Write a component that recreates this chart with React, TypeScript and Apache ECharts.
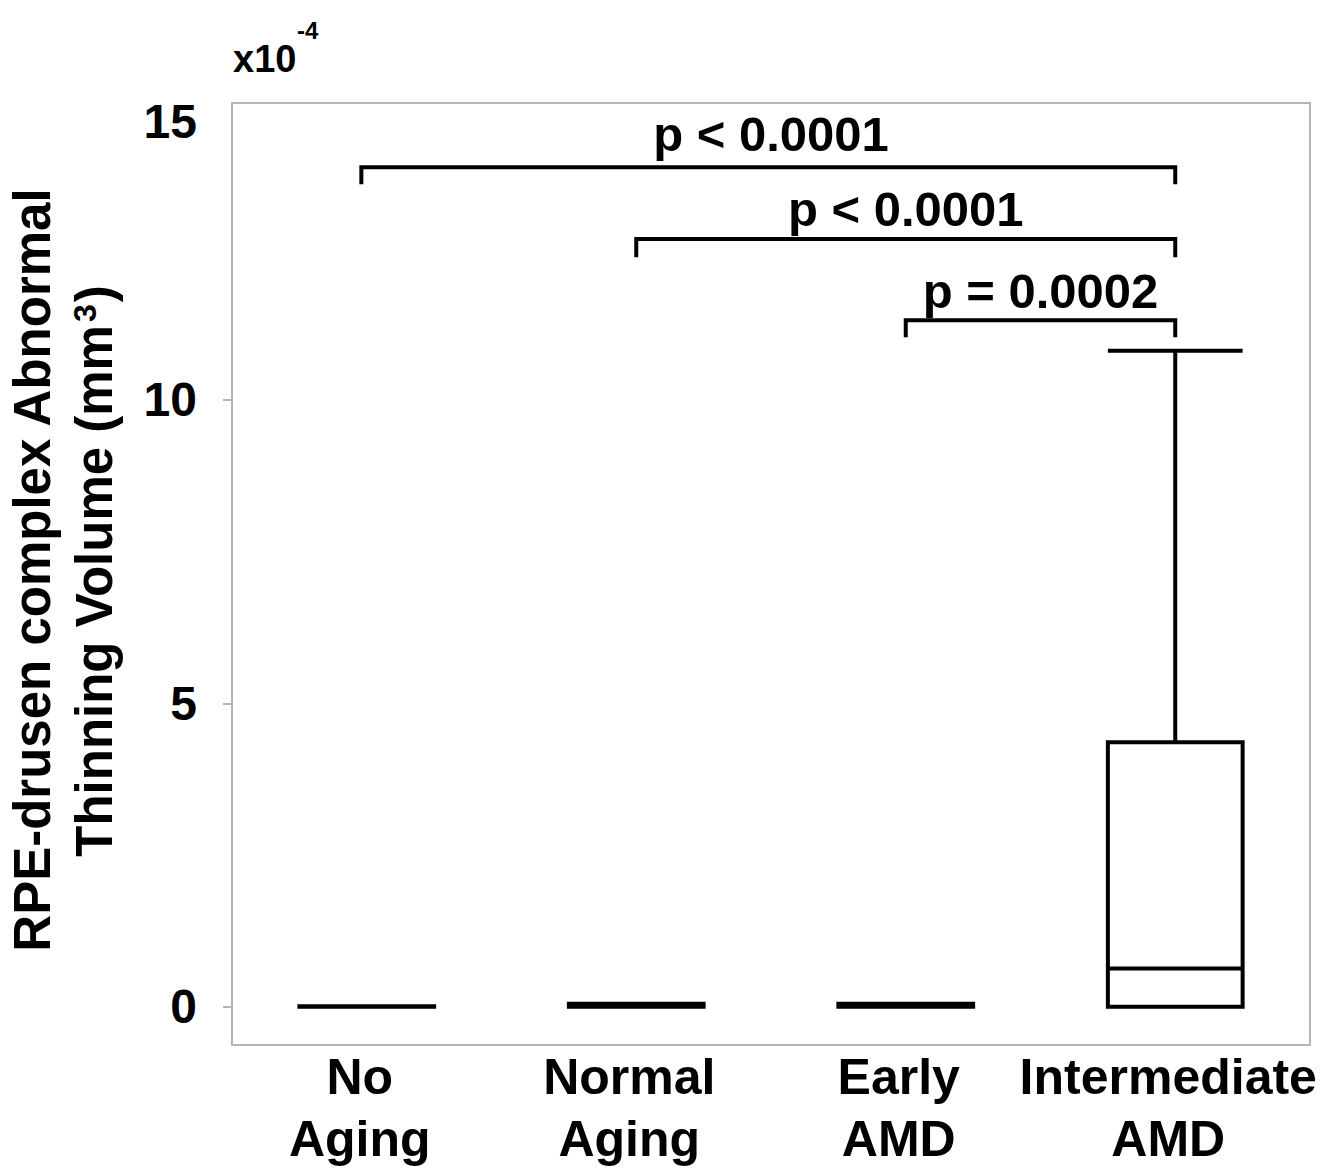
import React, { useEffect, useRef } from "react";
import * as echarts from "echarts";

const FONT = "'Liberation Sans', Arial, sans-serif";

const categories = ["No\nAging", "Normal\nAging", "Early\nAMD", "Intermediate\nAMD"];
// [min, Q1, median, Q3, max] (x10^-4 mm^3)
const noAging = [0, 0, 0, 0.01, 0.01];
const normalAging = [0, 0, 0, 0.05, 0.05];
const earlyAMD = [0, 0, 0, 0.05, 0.05];
const intermediateAMD = [0, 0, 0.63, 4.36, 10.81];
const yTickValues = [0, 5, 10];

// significance brackets (positions in category units: centre of category i = i + 0.5)
const bracketLabels = ["p < 0.0001", "p < 0.0001", "p = 0.0002"];
const bracketFrom = [0.48, 1.5, 2.5];
const bracketTo = [3.5, 3.5, 3.5];
const bracketTop = [13.83, 12.65, 11.31];
const bracketLeg = [13.55, 12.35, 11.03];
const bracketLabelY = [14.38, 13.14, 11.8];

export default function App() {
  const ref = useRef<HTMLDivElement>(null);
  useEffect(() => {
    document.body.style.margin = "0";
    document.body.style.overflow = "hidden";
    const chart = echarts.init(ref.current as HTMLDivElement, null, {
      renderer: "svg",
      width: 1323,
      height: 1169,
    });

    const bracketSeries = bracketLabels.map((_, i) => ({
      type: "line",
      xAxisIndex: 1,
      yAxisIndex: 0,
      symbol: "none",
      silent: true,
      lineStyle: { color: "#000", width: 4, join: "miter", cap: "butt" },
      data: [
        [bracketFrom[i], bracketLeg[i]],
        [bracketFrom[i], bracketTop[i]],
        [bracketTo[i], bracketTop[i]],
        [bracketTo[i], bracketLeg[i]],
      ],
    }));

    const staticGraphics: any[] = [
      {
        type: "text",
        x: 197,
        y: 121,
        style: {
          text: "15",
          align: "right",
          verticalAlign: "middle",
          fontSize: 48,
          fontWeight: "bold",
          fontFamily: FONT,
          fill: "#000",
        },
      },
      {
        type: "text",
        x: 233,
        y: 59,
        style: {
          text: "x10",
          align: "left",
          verticalAlign: "middle",
          fontSize: 38,
          fontWeight: "bold",
          fontFamily: FONT,
          fill: "#000",
        },
      },
      {
        type: "text",
        x: 297,
        y: 30,
        style: {
          text: "-4",
          align: "left",
          verticalAlign: "middle",
          fontSize: 24,
          fontWeight: "bold",
          fontFamily: FONT,
          fill: "#000",
        },
      },
      {
        type: "text",
        x: 32,
        y: 570,
        rotation: Math.PI / 2,
        style: {
          text: "RPE-drusen complex Abnormal",
          align: "center",
          verticalAlign: "middle",
          fontSize: 51,
          fontWeight: "bold",
          fontFamily: FONT,
          fill: "#000",
        },
      },
      {
        type: "text",
        x: 94,
        y: 571,
        rotation: Math.PI / 2,
        style: {
          text: "Thinning Volume (mm{sup|3})",
          align: "center",
          verticalAlign: "middle",
          fontSize: 51,
          fontWeight: "bold",
          fontFamily: FONT,
          fill: "#000",
          rich: {
            sup: {
              fontSize: 32,
              fontWeight: "bold",
              fontFamily: FONT,
              fill: "#000",
              verticalAlign: "top",
              padding: [0, 2, 0, 3],
            },
          },
        },
      },
    ];

    chart.setOption({
      animation: false,
      backgroundColor: "#fff",
      textStyle: { fontFamily: FONT },
      grid: {
        left: 232,
        top: 103,
        right: 13,
        bottom: 124,
        show: true,
        borderColor: "#b4b4b4",
        borderWidth: 2,
        containLabel: false,
        outerBoundsMode: "none",
      },
      xAxis: [
        {
          type: "category",
          data: categories,
          boundaryGap: true,
          axisLine: { show: true, onZero: false, lineStyle: { color: "#b4b4b4", width: 2 } },
          axisTick: { show: false },
          splitLine: { show: false },
          axisLabel: {
            color: "#000",
            fontSize: 50,
            fontWeight: "bold",
            fontFamily: FONT,
            lineHeight: 62,
            margin: 1,
            interval: 0,
            padding: [0, 14, 0, 0],
          },
        },
        { type: "value", min: 0, max: 4, show: false },
      ],
      yAxis: {
        type: "value",
        min: -0.63,
        max: 14.89,
        splitLine: { show: false },
        axisLine: { show: true, onZero: false, lineStyle: { color: "#b4b4b4", width: 2 } },
        axisTick: {
          show: true,
          length: 9,
          customValues: yTickValues,
          lineStyle: { color: "#b4b4b4", width: 2 },
        },
        axisLabel: {
          customValues: yTickValues,
          color: "#000",
          fontSize: 48,
          fontWeight: "bold",
          fontFamily: FONT,
          margin: 35,
          padding: [0, 0, 12, 0],
        },
      },
      series: [
        {
          type: "boxplot",
          xAxisIndex: 0,
          yAxisIndex: 0,
          boxWidth: ["50%", "50%"],
          silent: true,
          itemStyle: { color: "#fff", borderColor: "#000", borderWidth: 4 },
          data: [noAging, normalAging, earlyAMD, intermediateAMD],
        },
        ...bracketSeries,
      ],
      graphic: staticGraphics,
    });

    // p-value labels placed through the chart's own scales
    const labelGraphics = bracketLabels.map((l, i) => {
      const pt = chart.convertToPixel({ xAxisIndex: 1, yAxisIndex: 0 } as any, [
        (bracketFrom[i] + bracketTo[i]) / 2 + (i === 0 ? 0.01 : 0),
        bracketLabelY[i],
      ]) as number[];
      return {
        type: "text",
        x: pt[0],
        y: pt[1],
        style: {
          text: l,
          align: "center",
          verticalAlign: "middle",
          fontSize: 49,
          fontWeight: "bold",
          fontFamily: FONT,
          fill: "#000",
        },
      };
    });
    chart.setOption({ graphic: [...staticGraphics, ...labelGraphics] });

    return () => chart.dispose();
  }, []);
  return <div ref={ref} style={{ width: 1323, height: 1169 }} />;
}
